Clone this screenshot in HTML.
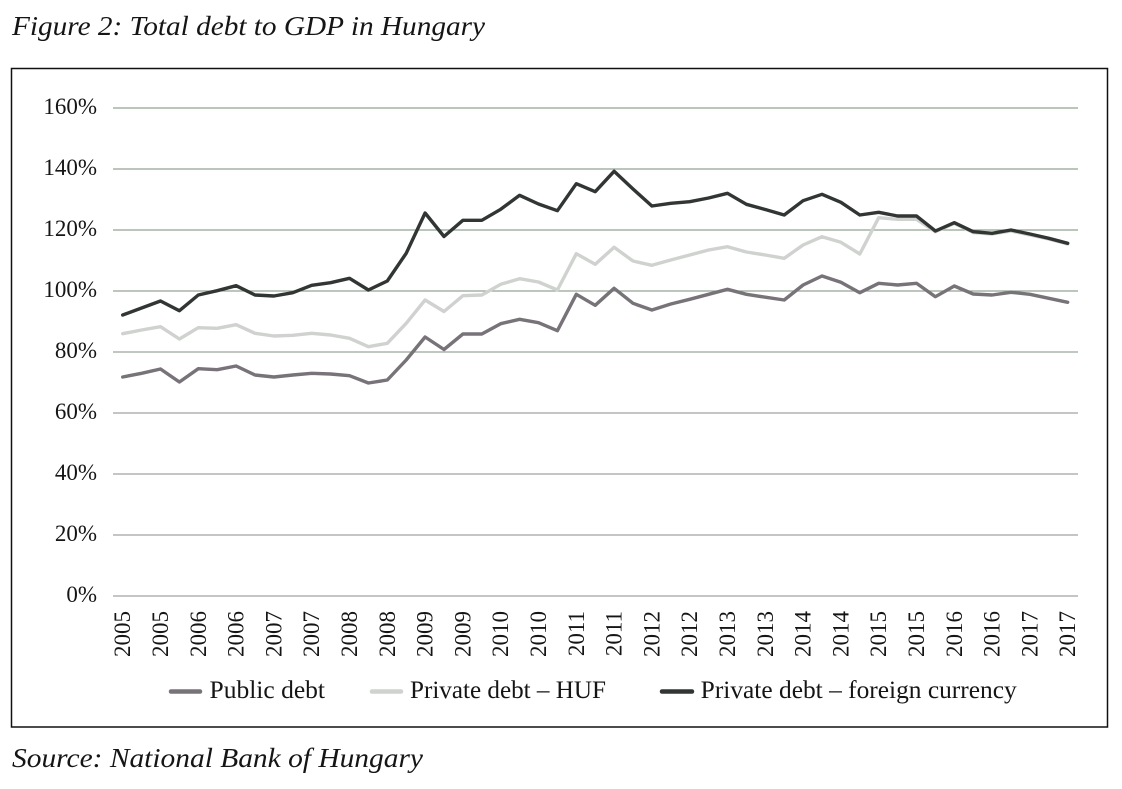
<!DOCTYPE html>
<html>
<head>
<meta charset="utf-8">
<style>
  html,body{margin:0;padding:0;background:#fff;}
  svg{display:block;}
  text{font-family:"Liberation Serif","DejaVu Serif",serif;fill:#151515;}
</style>
</head>
<body>
<svg width="1122" height="789" viewBox="0 0 1122 789" xmlns="http://www.w3.org/2000/svg">
  <rect x="0" y="0" width="1122" height="789" fill="#fff"/>
  <!-- Title -->
  <text x="12" y="35" font-size="27" font-style="italic" textLength="473" lengthAdjust="spacingAndGlyphs">Figure 2: Total debt to GDP in Hungary</text>

  <!-- Frame -->
  <rect x="11.5" y="68.5" width="1096" height="658.5" fill="none" stroke="#111" stroke-width="1.5"/>

  <!-- Gridlines -->
  <g stroke-width="1.2">
    <line x1="113" y1="108" x2="1078" y2="108" stroke="#8fa38f"/>
    <line x1="113" y1="169" x2="1078" y2="169" stroke="#8fa38f"/>
    <line x1="113" y1="230" x2="1078" y2="230" stroke="#8fa38f"/>
    <line x1="113" y1="291" x2="1078" y2="291" stroke="#95a595"/>
    <line x1="113" y1="352" x2="1078" y2="352" stroke="#9aa49a"/>
    <line x1="113" y1="413" x2="1078" y2="413" stroke="#a2a2a2"/>
    <line x1="113" y1="474" x2="1078" y2="474" stroke="#a2a2a2"/>
    <line x1="113" y1="535" x2="1078" y2="535" stroke="#a2a2a2"/>
    <line x1="113" y1="596" x2="1078" y2="596" stroke="#a2a2a2"/>
  </g>

  <!-- Y labels -->
  <g font-size="23" text-anchor="end">
    <text x="97" y="114">160%</text>
    <text x="97" y="175">140%</text>
    <text x="97" y="236">120%</text>
    <text x="97" y="297">100%</text>
    <text x="97" y="358">80%</text>
    <text x="97" y="419">60%</text>
    <text x="97" y="480">40%</text>
    <text x="97" y="541">20%</text>
    <text x="97" y="602">0%</text>
  </g>

  <!-- X labels -->
  <g font-size="23" text-anchor="end">
    <text transform="translate(130.2,611) rotate(-90)">2005</text>
    <text transform="translate(168.0,611) rotate(-90)">2005</text>
    <text transform="translate(205.8,611) rotate(-90)">2006</text>
    <text transform="translate(243.6,611) rotate(-90)">2006</text>
    <text transform="translate(281.4,611) rotate(-90)">2007</text>
    <text transform="translate(319.2,611) rotate(-90)">2007</text>
    <text transform="translate(357.0,611) rotate(-90)">2008</text>
    <text transform="translate(394.8,611) rotate(-90)">2008</text>
    <text transform="translate(432.6,611) rotate(-90)">2009</text>
    <text transform="translate(470.4,611) rotate(-90)">2009</text>
    <text transform="translate(508.2,611) rotate(-90)">2010</text>
    <text transform="translate(546.0,611) rotate(-90)">2010</text>
    <text transform="translate(583.8,611) rotate(-90)">2011</text>
    <text transform="translate(621.6,611) rotate(-90)">2011</text>
    <text transform="translate(659.4,611) rotate(-90)">2012</text>
    <text transform="translate(697.2,611) rotate(-90)">2012</text>
    <text transform="translate(735.0,611) rotate(-90)">2013</text>
    <text transform="translate(772.8,611) rotate(-90)">2013</text>
    <text transform="translate(810.6,611) rotate(-90)">2014</text>
    <text transform="translate(848.4,611) rotate(-90)">2014</text>
    <text transform="translate(886.2,611) rotate(-90)">2015</text>
    <text transform="translate(924.0,611) rotate(-90)">2015</text>
    <text transform="translate(961.8,611) rotate(-90)">2016</text>
    <text transform="translate(999.6,611) rotate(-90)">2016</text>
    <text transform="translate(1037.4,611) rotate(-90)">2017</text>
    <text transform="translate(1075.2,611) rotate(-90)">2017</text>
  </g>

  <!-- Series -->
  <g fill="none" stroke-width="3.4" stroke-linejoin="round" stroke-linecap="round">
    <!-- Public debt -->
    <polyline stroke="#777378" points="122.7,377 141.6,373.3 160.5,369 179.4,382 198.3,368.7 217.2,369.7 236.1,366 255.0,375 273.9,377 292.8,375 311.7,373.3 330.6,374 349.5,375.7 368.4,383 387.3,380 406.2,360 425.1,337 444.0,349.5 462.9,334 481.8,334 500.7,323.7 519.6,319.3 538.5,322.7 557.4,330.7 576.3,294.3 595.2,305.3 614.1,288.3 633.0,303.3 651.9,310 670.8,304 689.7,299.3 708.6,294.3 727.5,289.3 746.4,294.3 765.3,297.2 784.2,300 803.1,285 822.0,276 840.9,282.3 859.8,292.7 878.7,283.3 897.6,285 916.5,283.3 935.4,296.7 954.3,286 973.2,294 992.1,295 1011.0,292.3 1029.9,294.3 1048.8,298.3 1067.7,302.3"/>
    <!-- Private debt HUF -->
    <polyline stroke="#cfd2cf" points="122.7,333.7 141.6,330 160.5,326.7 179.4,339 198.3,327.7 217.2,328.3 236.1,324.7 255.0,333.3 273.9,336 292.8,335.3 311.7,333.3 330.6,335 349.5,338.3 368.4,346.7 387.3,343.3 406.2,323.3 425.1,300 444.0,311.5 462.9,295.7 481.8,295 500.7,284.3 519.6,278.7 538.5,282 557.4,290 576.3,253.7 595.2,264.3 614.1,247.3 633.0,261 651.9,265.3 670.8,260 689.7,255 708.6,250 727.5,246.7 746.4,252 765.3,255 784.2,258.3 803.1,245 822.0,236.7 840.9,242.3 859.8,254 878.7,217.7 897.6,219.3 916.5,219.3 935.4,231.7 954.3,223.3 973.2,232.5 992.1,234 1011.0,231 1029.9,235 1048.8,239 1067.7,244"/>
    <!-- Private debt foreign currency -->
    <polyline stroke="#313533" points="122.7,315 141.6,308 160.5,301 179.4,310.7 198.3,295 217.2,290.7 236.1,285.7 255.0,295 273.9,296 292.8,292.7 311.7,285.3 330.6,282.7 349.5,278.3 368.4,290 387.3,281 406.2,253.3 425.1,213 444.0,236.5 462.9,220.3 481.8,220.3 500.7,209.3 519.6,195.3 538.5,204 557.4,210.7 576.3,183.7 595.2,191.7 614.1,171.3 633.0,189 651.9,206 670.8,203.3 689.7,201.7 708.6,198 727.5,193.3 746.4,204.3 765.3,209.5 784.2,215 803.1,200.7 822.0,194.3 840.9,202.3 859.8,215 878.7,212.3 897.6,216 916.5,216 935.4,231 954.3,222.7 973.2,231.7 992.1,233.3 1011.0,230 1029.9,234 1048.8,238.3 1067.7,243.3"/>
  </g>

  <!-- Legend -->
  <g stroke-width="4.5" stroke-linecap="round">
    <line x1="171" y1="691.5" x2="200" y2="691.5" stroke="#777378"/>
    <line x1="372" y1="691.5" x2="401" y2="691.5" stroke="#cfd2cf"/>
    <line x1="662" y1="691.5" x2="692" y2="691.5" stroke="#313533"/>
  </g>
  <g font-size="25">
    <text x="209.5" y="698" textLength="115.5" lengthAdjust="spacingAndGlyphs">Public debt</text>
    <text x="410" y="698" textLength="196" lengthAdjust="spacingAndGlyphs">Private debt – HUF</text>
    <text x="700.7" y="698" textLength="316" lengthAdjust="spacingAndGlyphs">Private debt – foreign currency</text>
  </g>

  <!-- Source -->
  <text x="12" y="767" font-size="27" font-style="italic" textLength="411" lengthAdjust="spacingAndGlyphs">Source: National Bank of Hungary</text>
</svg>
</body>
</html>
